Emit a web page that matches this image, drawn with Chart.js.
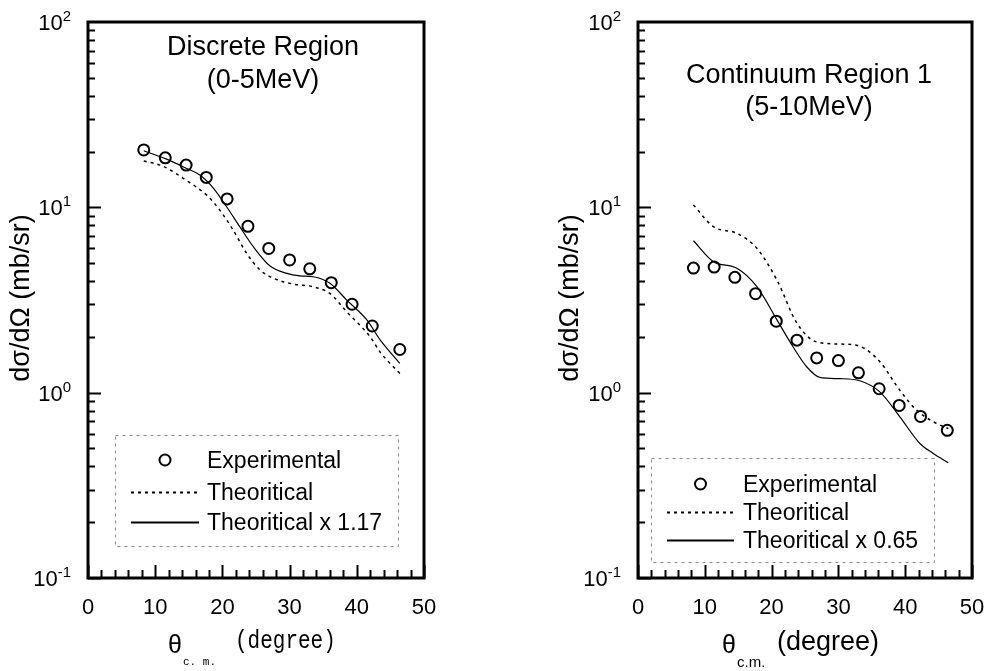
<!DOCTYPE html>
<html>
<head>
<meta charset="utf-8">
<script src="https://cdn.jsdelivr.net/npm/chart.js@4.4.0/dist/chart.umd.min.js"></script>
<style>
    body { margin: 0; background: #fff; width: 987px; height: 671px; overflow: hidden; position: relative; }
    canvas { position: absolute; top: 0; }
</style>
</head>
<body>
<canvas id="leftChart" width="494" height="671" style="left:0"></canvas>
<canvas id="rightChart" width="493" height="671" style="left:494px"></canvas>
<script>
// ---- data ----
const xTickValues = [0, 10, 20, 30, 40, 50];
const xTickLabels = ['0', '10', '20', '30', '40', '50'];
const yTickExponents = [-1, 0, 1, 2];

// Discrete region (0-5 MeV)
const expThetaL = [8.3, 11.5, 14.6, 17.6, 20.7, 23.8, 26.9, 30.0, 33.0, 36.2, 39.3, 42.3, 46.4];
const expValueL = [20.4, 18.5, 16.9, 14.5, 11.1, 7.9, 6.0, 5.2, 4.66, 3.92, 3.0, 2.29, 1.71];
const theoThetaL = [8.3, 11.1, 14.6, 17.7, 19.6, 21.6, 23.6, 25.6, 27.6, 30.6, 33.5, 36.0, 38.5, 42.0, 43.5, 46.4];
const theoValueL = [17.8, 16.7, 14.0, 11.6, 9.67, 7.54, 5.65, 4.59, 4.14, 3.85, 3.73, 3.43, 2.73, 2.0, 1.65, 1.27];
const scaledThetaL = [8.3, 11.7, 14.7, 16.7, 18.65, 20.6, 22.6, 24.6, 27.1, 29.6, 31.5, 33.5, 36.0, 38.5, 41.5, 43.5, 46.4];
const scaledValueL = [20.2, 18.2, 16.2, 14.9, 12.7, 10.1, 7.85, 6.13, 4.82, 4.40, 4.27, 4.22, 3.89, 3.16, 2.47, 1.92, 1.44];

// Continuum region 1 (5-10 MeV)
const expThetaR = [8.3, 11.4, 14.5, 17.6, 20.7, 23.8, 26.75, 30.0, 33.0, 36.1, 39.1, 42.3, 46.3];
const expValueR = [4.70, 4.76, 4.19, 3.42, 2.43, 1.92, 1.54, 1.49, 1.28, 1.05, 0.853, 0.744, 0.626];
const theoThetaR = [8.3, 11.3, 14.8, 17.8, 20.8, 23.8, 26.7, 30.2, 33.2, 36.2, 39.2, 41.7, 44.2, 46.45];
const theoValueR = [10.3, 7.86, 7.24, 6.01, 4.05, 2.37, 1.88, 1.83, 1.78, 1.47, 1.03, 0.805, 0.697, 0.64];
const scaledThetaR = [8.3, 11.3, 14.8, 17.8, 20.8, 23.2, 25.25, 27.2, 30.2, 33.2, 36.2, 39.2, 42.2, 44.2, 46.45];
const scaledValueR = [6.60, 5.09, 4.69, 3.73, 2.47, 1.77, 1.38, 1.21, 1.19, 1.16, 1.01, 0.741, 0.532, 0.470, 0.419];

const SANS = 'Arial, "Liberation Sans", sans-serif';
const MONO = '"Liberation Mono", "DejaVu Sans Mono", monospace';

function toPoints(xs, ys) {
    return xs.map((x, i) => ({ x: x, y: ys[i] }));
}

/**
 * Frame, inward ticks, tick labels, titles and legend box
 */
const decorPlugin = {
    id: 'decor',
    afterDraw(chart, args, opts) {
        const ctx = chart.ctx;
        const area = chart.chartArea;
        const xs = chart.scales.x;
        const ys = chart.scales.y;
        ctx.save();
        ctx.fillStyle = '#000';
        ctx.strokeStyle = '#000';

        // x ticks (inside, bottom)
        ctx.lineWidth = 2;
        for (let v = 0; v <= 50; v += 2) {
            const px = Math.round(xs.getPixelForValue(v)) + 0.5;
            const len = (v % 10 === 0) ? 13 : 8;
            ctx.beginPath();
            ctx.moveTo(px, area.bottom);
            ctx.lineTo(px, area.bottom - len);
            ctx.stroke();
        }
        // y ticks (inside, left)
        for (let e = -1; e <= 1; e++) {
            for (let m = 1; m <= 9; m++) {
                const py = Math.round(ys.getPixelForValue(m * Math.pow(10, e))) + 0.5;
                const len = (m === 1) ? 13 : 7;
                ctx.beginPath();
                ctx.moveTo(area.left, py);
                ctx.lineTo(area.left + len, py);
                ctx.stroke();
            }
        }

        // frame
        ctx.lineWidth = 3;
        ctx.strokeRect(area.left, area.top, area.right - area.left, area.bottom - area.top);

        // x tick labels
        ctx.font = '22px ' + SANS;
        ctx.textAlign = 'center';
        ctx.textBaseline = 'alphabetic';
        xTickValues.forEach((v, i) => {
            ctx.fillText(xTickLabels[i], xs.getPixelForValue(v), 614);
        });

        // y tick labels: 10 with superscript exponent
        yTickExponents.forEach(e => {
            const py = ys.getPixelForValue(Math.pow(10, e));
            const right = area.left - 17;
            ctx.font = '15px ' + SANS;
            ctx.textAlign = 'right';
            const supW = ctx.measureText(String(e)).width;
            ctx.fillText(String(e), right, py - 1);
            ctx.font = '22px ' + SANS;
            ctx.fillText('10', right - supW, py + 8);
        });

        // y axis title
        ctx.save();
        ctx.translate(opts.yTitleX, 298);
        ctx.rotate(-Math.PI / 2);
        ctx.font = '27px ' + SANS;
        ctx.textAlign = 'center';
        ctx.fillText('d\u03c3/d\u03a9 (mb/sr)', 0, 0);
        ctx.restore();

        // panel title
        ctx.font = '27px ' + SANS;
        ctx.textAlign = 'center';
        ctx.fillText(opts.title[0], opts.titleX, opts.titleY[0]);
        ctx.fillText(opts.title[1], opts.titleX, opts.titleY[1]);

        // x axis title
        opts.drawXTitle(ctx);

        // legend
        const lg = opts.legend;
        ctx.lineWidth = 1;
        ctx.strokeStyle = '#8a8a8a';
        ctx.setLineDash([3, 4]);
        ctx.strokeRect(lg.box[0] + 0.5, lg.box[1] + 0.5, lg.box[2] - lg.box[0], lg.box[3] - lg.box[1]);
        ctx.setLineDash([]);

        const sets = chart.data.datasets;
        ctx.font = '23px ' + SANS;
        ctx.textAlign = 'left';
        ctx.fillStyle = '#000';
        sets.forEach((ds, i) => {
            const rowY = lg.rows[i];
            if (ds.showLine === false) {
                ctx.beginPath();
                ctx.strokeStyle = ds.pointBorderColor;
                ctx.lineWidth = ds.pointBorderWidth;
                ctx.arc((lg.line[0] + lg.line[1]) / 2, rowY, ds.pointRadius, 0, Math.PI * 2);
                ctx.stroke();
            } else {
                ctx.beginPath();
                ctx.strokeStyle = ds.borderColor;
                ctx.lineWidth = 2;
                ctx.setLineDash(ds.borderDash || []);
                ctx.moveTo(lg.line[0], rowY + 0.5);
                ctx.lineTo(lg.line[1], rowY + 0.5);
                ctx.stroke();
                ctx.setLineDash([]);
            }
            ctx.fillText(ds.label, lg.textX, rowY + 8);
        });
        ctx.restore();
    }
};

function makePanel(canvasId, spec) {
    const ctx = document.getElementById(canvasId).getContext('2d');
    return new Chart(ctx, {
        type: 'line',
        data: {
            datasets: [{
                label: 'Experimental',
                data: toPoints(spec.expTheta, spec.expValue),
                showLine: false,
                pointRadius: 5.5,
                pointBorderWidth: 2,
                pointBorderColor: '#000',
                pointBackgroundColor: 'rgba(0,0,0,0)',
                order: 0
            }, {
                label: 'Theoritical',
                data: toPoints(spec.theoTheta, spec.theoValue),
                borderColor: '#000',
                borderWidth: 1.5,
                borderDash: [3, 4],
                pointRadius: 0,
                cubicInterpolationMode: 'monotone',
                order: 1
            }, {
                label: spec.scaledLabel,
                data: toPoints(spec.scaledTheta, spec.scaledValue),
                borderColor: '#000',
                borderWidth: 1.2,
                pointRadius: 0,
                cubicInterpolationMode: 'monotone',
                order: 2
            }]
        },
        options: {
            responsive: false,
            animation: false,
            layout: { padding: spec.padding },
            plugins: {
                legend: { display: false },
                tooltip: { enabled: false },
                decor: spec.decor
            },
            scales: {
                x: { type: 'linear', min: 0, max: 50, display: false },
                y: { type: 'logarithmic', min: 0.1, max: 100, display: false }
            }
        },
        plugins: [decorPlugin]
    });
}

makePanel('leftChart', {
    expTheta: expThetaL, expValue: expValueL,
    theoTheta: theoThetaL, theoValue: theoValueL,
    scaledTheta: scaledThetaL, scaledValue: scaledValueL,
    scaledLabel: 'Theoritical x 1.17',
    padding: { left: 88, top: 22, right: 70, bottom: 93 },
    decor: {
        title: ['Discrete Region', '(0-5MeV)'],
        titleX: 263, titleY: [55, 88],
        yTitleX: 29,
        legend: { box: [115, 435, 398, 546], rows: [460, 492, 522], line: [131, 199], textX: 207 },
        drawXTitle(ctx) {
            ctx.textAlign = 'left';
            ctx.font = '25px ' + SANS;
            ctx.fillText('\u03b8', 168, 653);
            ctx.font = '11px ' + MONO;
            ctx.fillText('c. m.', 183, 665);
            ctx.save();
            ctx.translate(235, 648);
            ctx.scale(1, 1.2);
            ctx.font = '21px ' + MONO;
            ctx.fillText('(degree)', 0, 0);
            ctx.restore();
        }
    }
});

makePanel('rightChart', {
    expTheta: expThetaR, expValue: expValueR,
    theoTheta: theoThetaR, theoValue: theoValueR,
    scaledTheta: scaledThetaR, scaledValue: scaledValueR,
    scaledLabel: 'Theoritical x 0.65',
    padding: { left: 144, top: 22, right: 15, bottom: 93 },
    decor: {
        title: ['Continuum Region 1', '(5-10MeV)'],
        titleX: 315, titleY: [83, 115],
        yTitleX: 84,
        legend: { box: [157, 458, 440, 562], rows: [484, 512, 540], line: [173, 240], textX: 249 },
        drawXTitle(ctx) {
            ctx.textAlign = 'left';
            ctx.font = '25px ' + SANS;
            ctx.fillText('\u03b8', 228, 653);
            ctx.font = '15px ' + SANS;
            ctx.fillText('c.m.', 243, 667);
            ctx.font = '27px ' + SANS;
            ctx.fillText('(degree)', 283, 650);
        }
    }
});
</script>
</body>
</html>
